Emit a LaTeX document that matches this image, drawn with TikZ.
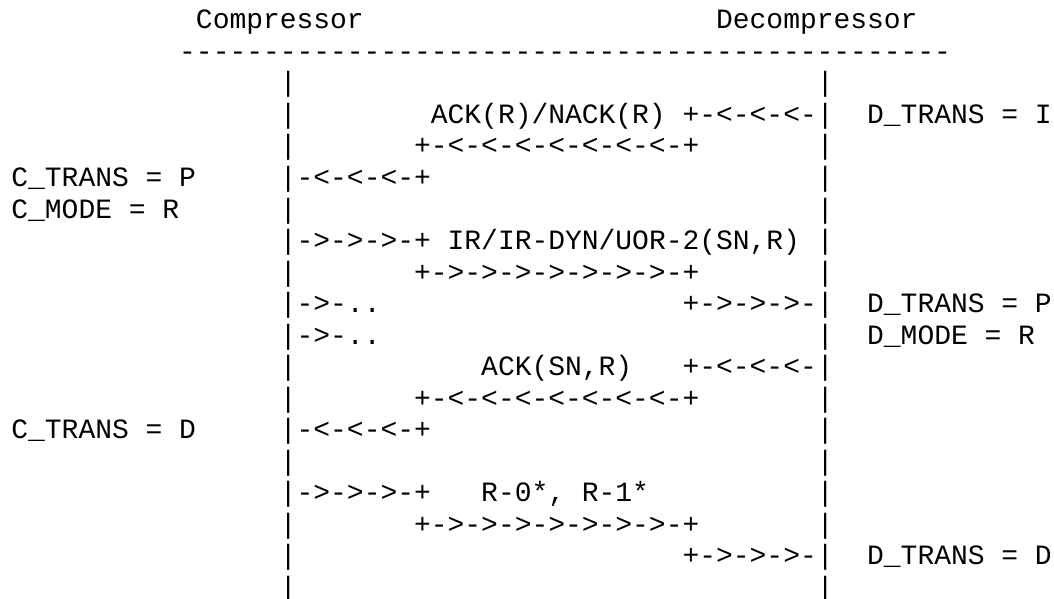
\documentclass[tikz,border=0pt]{standalone}
\usepackage{fontspec}
\setmonofont{Liberation Mono}
\usepackage{tikz}
\usetikzlibrary{positioning}
\tikzstyle{txt}=[font=\ttfamily\fontsize{13.98pt}{15.75pt}\selectfont, inner sep=0pt, anchor=base west]
\tikzstyle{bar}=[txt]

\begin{document}
\begin{tikzpicture}
    \useasboundingbox (0,0) rectangle (527pt,-299.5pt);
    % one unit = one character cell
    \begin{scope}[shift={(5.5pt,1.25pt)}, x=8.39pt, y=-15.75pt]
        \node[txt] at (11,1) (comp) {Compressor};
        \node[txt] at (42,1) (dec) {Decompressor};
        \node[txt] at (10,2) (rule) {----------------------------------------------};

        \foreach \r in {3,...,19} {
            \node[bar] at (16,\r) (lbar\r) {|};
            \node[bar] at (48,\r) (rbar\r) {|};
        }

        \node[txt] at (25,4) (ack1) {ACK(R)/NACK(R)};
        \node[txt] at (40,4) (ack1d) {+-<-<-<-};
        \node[txt] at (51,4) (dti) {D\_TRANS = I};
        \node[txt] at (24,5) (ack1m) {+-<-<-<-<-<-<-<-+};
        \node[txt] at (0,6) (ctp) {C\_TRANS = P};
        \node[txt] at (17,6) (ack1c) {-<-<-<-+};
        \node[txt] at (0,7) (cmr) {C\_MODE = R};

        \node[txt] at (17,8) (ir1c) {->->->-+};
        \node[txt] at (26,8) (ir1) {IR/IR-DYN/UOR-2(SN,R)};
        \node[txt] at (24,9) (ir1m) {+->->->->->->->-+};
        \node[txt] at (17,10) (ir2c) {->-..};
        \node[txt] at (40,10) (ir1d) {+->->->-};
        \node[txt] at (51,10) (dtp) {D\_TRANS = P};
        \node[txt] at (17,11) (ir3c) {->-..};
        \node[txt] at (51,11) (dmr) {D\_MODE = R};

        \node[txt] at (28,12) (ack2) {ACK(SN,R)};
        \node[txt] at (40,12) (ack2d) {+-<-<-<-};
        \node[txt] at (24,13) (ack2m) {+-<-<-<-<-<-<-<-+};
        \node[txt] at (0,14) (ctd) {C\_TRANS = D};
        \node[txt] at (17,14) (ack2c) {-<-<-<-+};

        \node[txt] at (17,16) (r0c) {->->->-+};
        \node[txt] at (28,16) (r0) {R-0*, R-1*};
        \node[txt] at (24,17) (r0m) {+->->->->->->->-+};
        \node[txt] at (40,18) (r0d) {+->->->-};
        \node[txt] at (51,18) (dtd) {D\_TRANS = D};
    \end{scope}
\end{tikzpicture}
\end{document}
